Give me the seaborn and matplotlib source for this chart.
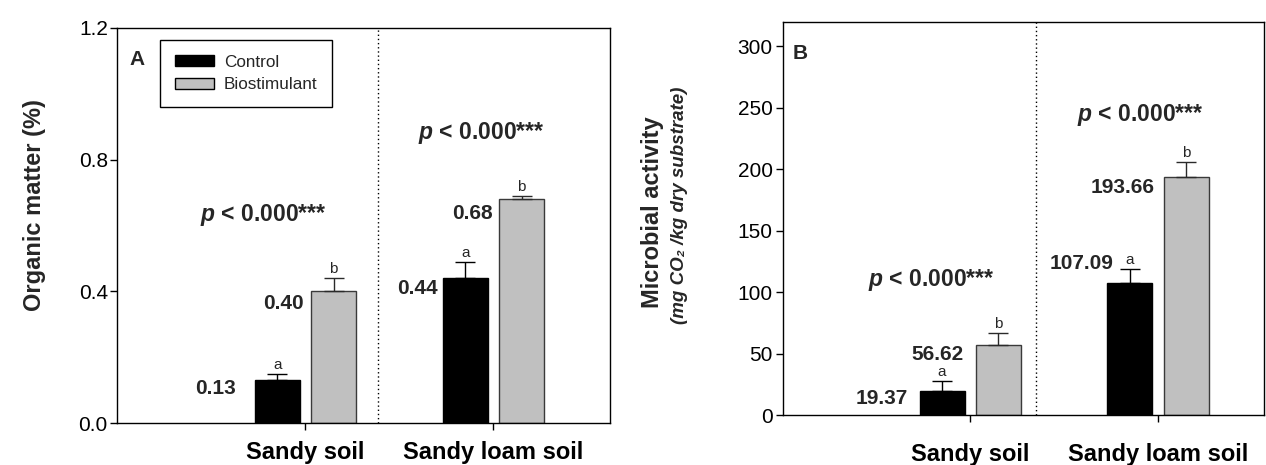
import matplotlib
matplotlib.use("Agg")
import matplotlib.pyplot as plt
import seaborn as sns
import pandas as pd
from matplotlib import font_manager

# ---------------- data ----------------
soils = ["Sandy soil", "Sandy loam soil"]
treatments = ["Control", "Biostimulant"]
om_control = [0.13, 0.44]
om_biostim = [0.40, 0.68]
om_err_control = [0.02, 0.05]
om_err_biostim = [0.04, 0.01]
mic_control = [19.37, 107.09]
mic_biostim = [56.62, 193.66]
mic_err_control = [8.3, 11.4]
mic_err_biostim = [9.8, 12.0]
letters_control = ["a", "a"]
letters_biostim = ["b", "b"]
om_yticks = [0.0, 0.4, 0.8, 1.2]
mic_yticks = [0, 50, 100, 150, 200, 250, 300]
p_label = r"$p$ < 0.000***"

# ---------------- style ----------------
sns.set_style("ticks")
names = {f.name for f in font_manager.fontManager.ttflist}
narrow = "Liberation Sans Narrow" if "Liberation Sans Narrow" in names else "Liberation Sans"
plt.rcParams["font.family"] = ["Liberation Sans", "DejaVu Sans"]
plt.rcParams["mathtext.fontset"] = "custom"
plt.rcParams["mathtext.it"] = f"{narrow}:italic:bold"
plt.rcParams["mathtext.rm"] = f"{narrow}:bold"
plt.rcParams["axes.linewidth"] = 1.0
plt.rcParams["axes.edgecolor"] = "black"
plt.rcParams["xtick.color"] = "black"
plt.rcParams["ytick.color"] = "black"

PX = 0.72  # points per pixel at dpi 100

fig = plt.figure(figsize=(12.66, 4.65), dpi=100)
fig.patch.set_facecolor("white")
axA = fig.add_axes([0.0928, 0.0903, 0.389, 0.8495])
axB = fig.add_axes([0.6181, 0.1075, 0.3803, 0.8458])


def panel(ax, control, biostim, err_c, err_b, yticks, ylim, xlim, divider,
          value_offsets, fmt, legend, xpad):
    df = pd.DataFrame({
        "soil": soils * 2,
        "treatment": [treatments[0]] * 2 + [treatments[1]] * 2,
        "value": control + biostim,
    })
    sns.barplot(data=df, x="soil", y="value", hue="treatment", order=soils,
                hue_order=treatments, palette=["black", "#c0c0c0"],
                width=0.6, gap=0.2, edgecolor="black", linewidth=1.0,
                errorbar=None, legend=legend, ax=ax, zorder=2)
    for bar in ax.containers[1]:
        bar.set_edgecolor("#3a3a3a")
    groups = [(control, err_c, letters_control, "black"),
              (biostim, err_b, letters_biostim, "#2a2a2a")]
    k = 0
    for container, (vals, errs, lets, ecol) in zip(ax.containers, groups):
        for bar, v, e, l in zip(container, vals, errs, lets):
            xc = bar.get_x() + bar.get_width() / 2
            ax.errorbar([xc], [v], yerr=[[0], [e]], fmt="none", ecolor=ecol,
                        elinewidth=1.0, capsize=7, capthick=1.0, zorder=3)
            ax.annotate(l, (xc, v + e), xytext=(0, 5 * PX),
                        textcoords="offset points", ha="center", va="baseline",
                        fontsize=11)
            dx, dy = value_offsets[k]
            ax.annotate(fmt.format(v), (bar.get_x(), v),
                        xytext=(dx * PX, dy * PX), textcoords="offset points",
                        ha="right", va="center", fontsize=15,
                        fontweight="bold", family=[narrow, "DejaVu Sans"])
            k += 1
    ax.set_xlim(*xlim)
    ax.set_ylim(*ylim)
    ax.set_yticks(yticks)
    ax.axvline(divider, color="black", linestyle=(0, (1, 2)), linewidth=1.0,
               zorder=1)
    for s in ax.spines.values():
        s.set_visible(True)
        s.set_color("black")
        s.set_linewidth(1.0)
    ax.set_xlabel("")
    ax.set_ylabel("")
    ax.tick_params(axis="y", direction="out", length=5, width=1, pad=2,
                   labelsize=15)
    ax.tick_params(axis="x", direction="out", length=5, width=1, pad=xpad,
                   labelsize=17)
    for t in ax.get_xticklabels():
        t.set_fontweight("bold")


# ---------------- panel A ----------------
panel(axA, om_control, om_biostim, om_err_control, om_err_biostim,
      om_yticks, (0, 1.2), (-1.0, 1.62), 0.386,
      [(-19, -8), (-5, -10), (-7, -12), (-6, -14)], "{:.2f}", True, 8)
axA.yaxis.set_major_formatter(matplotlib.ticker.FormatStrFormatter("%.1f"))
sns.move_legend(axA, "upper left", bbox_to_anchor=(0.0863, 0.9696),
                borderaxespad=0, title=None, frameon=True, fancybox=False,
                edgecolor="black", framealpha=1, fontsize=12.3,
                handlelength=2.3, handleheight=0.65, handletextpad=0.6,
                labelspacing=0.45, borderpad=0.85)
axA.get_legend().get_frame().set_linewidth(1.0)
axA.text(0.04, 0.919, "A", transform=axA.transAxes, fontsize=15,
         fontweight="bold", ha="center", va="center")
axA.text(-0.223, 0.632, p_label, fontsize=16.5, fontweight="bold",
         family=[narrow, "DejaVu Sans"], ha="center", va="center")
axA.text(0.936, 0.881, p_label, fontsize=16.5, fontweight="bold",
         family=[narrow, "DejaVu Sans"], ha="center", va="center")
axA.text(-0.1675, 0.552, "Organic matter (%)", transform=axA.transAxes,
         rotation=90, fontsize=17, fontweight="bold", ha="center", va="center")

# ---------------- panel B ----------------
panel(axB, mic_control, mic_biostim, mic_err_control, mic_err_biostim,
      mic_yticks, (0, 320), (-1.0, 1.564), 0.35,
      [(-11.5, -7), (6, 20), (-12, -9), (-9, -11)], "{:.2f}", False, 15)
axB.text(0.036, 0.92, "B", transform=axB.transAxes, fontsize=15,
         fontweight="bold", ha="center", va="center")
axB.text(-0.207, 109.8, p_label, fontsize=16.5, fontweight="bold",
         family=[narrow, "DejaVu Sans"], ha="center", va="center")
axB.text(0.904, 244, p_label, fontsize=16.5, fontweight="bold",
         family=[narrow, "DejaVu Sans"], ha="center", va="center")
axB.text(-0.271, 0.516, "Microbial activity", transform=axB.transAxes,
         rotation=90, fontsize=17, fontweight="bold", ha="center", va="center")
axB.text(-0.213, 0.533, "(mg CO\u2082 /kg dry substrate)", transform=axB.transAxes,
         rotation=90, fontsize=13.5, fontweight="bold", fontstyle="italic",
         ha="center", va="center")

fig.savefig("out.png", dpi=100, facecolor="white")
